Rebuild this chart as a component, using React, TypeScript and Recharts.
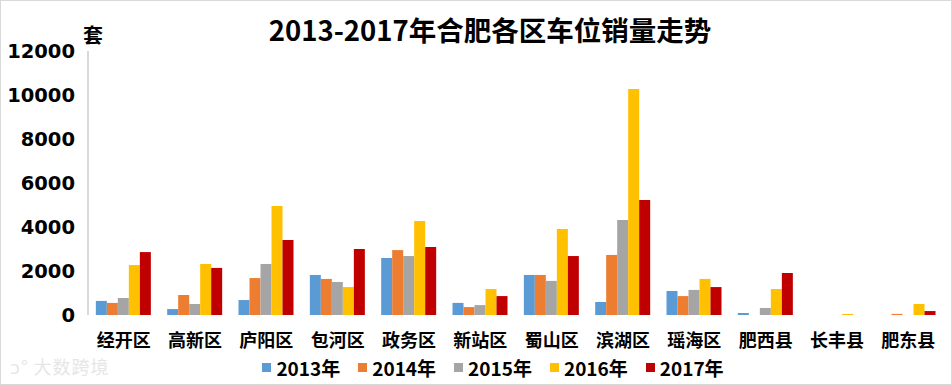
import { BarChart, Bar, XAxis, YAxis } from 'recharts';

const districts = ['经开区', '高新区', '庐阳区', '包河区', '政务区', '新站区', '蜀山区', '滨湖区', '瑶海区', '肥西县', '长丰县', '肥东县'];

const sales2013 = [640, 270, 680, 1820, 2590, 550, 1820, 590, 1090, 90, 0, 0];
const sales2014 = [550, 910, 1680, 1640, 2950, 360, 1820, 2730, 860, 0, 0, 50];
const sales2015 = [770, 500, 2320, 1500, 2680, 450, 1550, 4320, 1140, 320, 0, 0];
const sales2016 = [2270, 2320, 4950, 1270, 4270, 1180, 3910, 10270, 1640, 1180, 50, 500];
const sales2017 = [2860, 2140, 3410, 3000, 3090, 860, 2680, 5230, 1270, 1910, 0, 180];

const yTicks = [0, 2000, 4000, 6000, 8000, 10000, 12000];
const boundaryTicks = [0, 1, 2, 3, 4, 5, 6, 7, 8, 9, 10, 11, 12];

const series = [
  { key: 'y2013', name: '2013年', color: '#5B9BD5' },
  { key: 'y2014', name: '2014年', color: '#ED7D31' },
  { key: 'y2015', name: '2015年', color: '#A5A5A5' },
  { key: 'y2016', name: '2016年', color: '#FFC000' },
  { key: 'y2017', name: '2017年', color: '#C00000' },
];

const chartData = districts.map((name, i) => ({
  name,
  y2013: sales2013[i],
  y2014: sales2014[i],
  y2015: sales2015[i],
  y2016: sales2016[i],
  y2017: sales2017[i],
}));

const CJK = '"Noto Sans CJK SC", "DejaVu Sans", sans-serif';
const AXIS = '#b3b3b3';

export default function App() {
  return (
    <div style={{ position: 'relative', width: 952, height: 385, background: '#fff', fontFamily: CJK }}>
      <style>{'body{margin:0}'}</style>
      <div style={{ position: 'absolute', inset: 0, border: '1px solid #d9d9d9', boxSizing: 'border-box', pointerEvents: 'none' }} />
      <div style={{ position: 'absolute', top: 10, left: 0, width: 980, textAlign: 'center', fontSize: 27.5, fontWeight: 700, color: '#000', lineHeight: '38px' }}>
        2013-2017年合肥各区车位销量走势
      </div>
      <div style={{ position: 'absolute', top: 20, left: 83, fontSize: 20, fontWeight: 700, color: '#000' }}>套</div>
      <BarChart
        width={952}
        height={385}
        data={chartData}
        margin={{ top: 51, right: 8, left: 0, bottom: 40 }}
        barCategoryGap="11%"
        barGap={0}
      >
        {/* boundary tick marks between districts */}
        <XAxis
          xAxisId="bounds"
          type="number"
          domain={[0, 12]}
          ticks={boundaryTicks}
          axisLine={{ stroke: AXIS }}
          tickLine={{ stroke: AXIS }}
          tickSize={7}
          tickFormatter={() => ''}
          height={0}
        />
        <XAxis
          dataKey="name"
          xAxisId="cat"
          axisLine={false}
          tickLine={false}
          interval={0}
          height={30}
          tick={{ fontSize: 18, fontWeight: 700, fill: '#000', fontFamily: CJK }}
          dy={11}
        />
        <YAxis
          domain={[0, 12000]}
          ticks={yTicks}
          interval={0}
          width={88}
          axisLine={{ stroke: AXIS }}
          tickLine={false}
          dx={-5}
          tick={{ fontSize: 19.5, fontWeight: 700, fill: '#000', fontFamily: '"DejaVu Sans", sans-serif' }}
        />
        {series.map(s => (
          <Bar key={s.key} xAxisId="cat" dataKey={s.key} name={s.name} fill={s.color} isAnimationActive={false} />
        ))}
      </BarChart>
      <div style={{ position: 'absolute', top: 354, left: 0, width: 986, display: 'flex', justifyContent: 'center', gap: 18 }}>
        {series.map(s => (
          <div key={s.key} style={{ display: 'flex', alignItems: 'center', gap: 5, fontSize: 19, fontWeight: 700, color: '#000' }}>
            <div style={{ width: 9, height: 9, background: s.color }} />
            <span>{s.name}</span>
          </div>
        ))}
      </div>
      <div style={{ position: 'absolute', top: 353, left: 10, fontSize: 18, color: '#e6e6e6', letterSpacing: 1 }}>ↄ° 大数跨境</div>
    </div>
  );
}
